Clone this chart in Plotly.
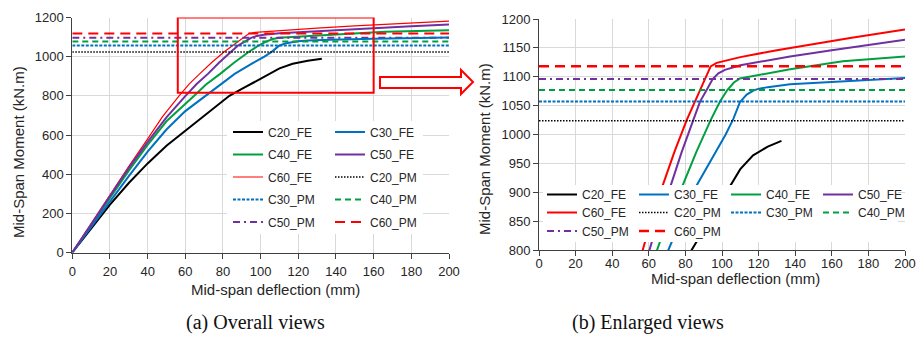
import plotly.graph_objects as go

# ---------------- data ----------------
c20_fe_x = [0, 10, 20, 30, 40, 50, 60, 70, 78.4, 83.4, 90, 97, 104.4, 110, 117, 125, 132.5]
c20_fe_y = [0, 125, 245, 355, 455, 545, 622, 698, 765, 800, 835, 872, 912, 940, 964, 979, 989]

c30_fe_x = [0, 10, 20, 30, 40, 50, 60, 70.7, 78, 86.2, 96, 102, 106.2, 109.8, 113.5, 117.1, 119.8, 125, 137.2, 160, 180, 200]
c30_fe_y = [0, 132, 262, 390, 515, 628, 722, 800, 855, 912, 968, 1000, 1027, 1056, 1069, 1076, 1079, 1082, 1087, 1091, 1094, 1098]

c40_fe_x = [0, 10, 20, 30, 40, 50, 64.7, 71, 78.5, 86, 93.8, 98.9, 102.9, 106.5, 109.8, 120, 137.2, 166, 200]
c40_fe_y = [0, 140, 280, 418, 550, 670, 800, 858, 912, 970, 1025, 1057, 1077, 1090, 1097, 1103, 1113, 1127, 1135]

c50_fe_x = [0, 10, 20, 30, 40, 50, 60.1, 66, 72, 78, 84.3, 88, 91.6, 94.9, 98, 101.6, 110, 137.2, 160, 180, 200]
c50_fe_y = [0, 145, 290, 432, 565, 690, 800, 860, 912, 970, 1025, 1057, 1077, 1096, 1106, 1112, 1120, 1135, 1146, 1155, 1164]

c60_fe_x = [0, 10, 20, 30, 40, 48, 56.7, 62, 67.6, 74, 80.7, 85.2, 90.3, 93.8, 97.1, 110, 130, 150, 170, 200]
c60_fe_y = [0, 148, 295, 440, 580, 695, 800, 860, 912, 970, 1025, 1057, 1096, 1118, 1124, 1134, 1146, 1157, 1167, 1182]

pm_x = [0, 200]
c20_pm = 1024
c30_pm = 1057
c40_pm = 1077
c50_pm = 1096
c60_pm = 1118

x_ticks = [0, 20, 40, 60, 80, 100, 120, 140, 160, 180, 200]
y_ticks_overall = [0, 200, 400, 600, 800, 1000, 1200]
y_ticks_zoom = [800, 850, 900, 950, 1000, 1050, 1100, 1150, 1200]
zoom_box_x = [56, 160]
zoom_box_y = [816, 1200]

# ---------------- styles ----------------
W, H = 917, 338
BLACK, BLUE, GREEN, PURPLE, RED = "#000000", "#0070C0", "#00A040", "#7030A0", "#FF0000"
FONT = "Liberation Sans"
TXT = "#262626"


def px(x):
    return x / W


def py(y):
    return 1 - y / H


series = [
    ("C20_FE", c20_fe_x, c20_fe_y, BLACK, "solid", 2.0, 2.0),
    ("C30_FE", c30_fe_x, c30_fe_y, BLUE, "solid", 2.0, 2.0),
    ("C40_FE", c40_fe_x, c40_fe_y, GREEN, "solid", 2.0, 2.0),
    ("C50_FE", c50_fe_x, c50_fe_y, PURPLE, "solid", 2.0, 2.0),
    ("C60_FE", c60_fe_x, c60_fe_y, RED, "solid", 1.2, 2.0),
    ("C20_PM", pm_x, [c20_pm] * 2, BLACK, "1.5px,1.5px", 1.5, 1.5),
    ("C30_PM", pm_x, [c30_pm] * 2, BLUE, "3px,1.5px", 2.0, 2.0),
    ("C40_PM", pm_x, [c40_pm] * 2, GREEN, "6px,4px", 2.0, 2.0),
    ("C50_PM", pm_x, [c50_pm] * 2, PURPLE, "7px,4px,2px,4px", 2.0, 2.0),
    ("C60_PM", pm_x, [c60_pm] * 2, RED, "10px,6px", 2.0, 2.5),
]

left_leg = {"C20_FE": "legend", "C40_FE": "legend", "C60_FE": "legend", "C30_PM": "legend", "C50_PM": "legend",
            "C30_FE": "legend2", "C50_FE": "legend2", "C20_PM": "legend2", "C40_PM": "legend2", "C60_PM": "legend2"}
right_leg = {"C20_FE": "legend3", "C30_FE": "legend3", "C40_FE": "legend3", "C50_FE": "legend3",
             "C60_FE": "legend4", "C20_PM": "legend4", "C30_PM": "legend4", "C40_PM": "legend4",
             "C50_PM": "legend5", "C60_PM": "legend5"}
left_order = ["C20_FE", "C40_FE", "C60_FE", "C30_PM", "C50_PM", "C30_FE", "C50_FE", "C20_PM", "C40_PM", "C60_PM"]

fig = go.Figure()
lookup = {s[0]: s for s in series}
for name in left_order:
    n, xs, ys, col, dash, wl, wr = lookup[name]
    fig.add_trace(go.Scatter(x=xs, y=ys, mode="lines", name=n, xaxis="x", yaxis="y",
                             line=dict(color=col, dash=dash, width=wl),
                             legend=left_leg[n], legendgroup="L" + n, hoverinfo="skip"))
for s in series:
    n, xs, ys, col, dash, wl, wr = s
    fig.add_trace(go.Scatter(x=xs, y=ys, mode="lines", name=n, xaxis="x2", yaxis="y2",
                             line=dict(color=col, dash=dash, width=wr),
                             legend=right_leg[n], legendgroup="R" + n, hoverinfo="skip"))

axis_common = dict(showgrid=True, gridcolor="#d9d9d9", gridwidth=1, zeroline=False,
                   showline=True, linecolor="#404040", linewidth=1,
                   ticks="outside", ticklen=5, tickcolor="#404040", tickwidth=1,
                   tickfont=dict(family=FONT, size=13, color=TXT), fixedrange=True)

fig.update_layout(
    width=W, height=H, margin=dict(l=0, r=0, t=0, b=0, autoexpand=False),
    paper_bgcolor="white", plot_bgcolor="white",
    xaxis=dict(domain=[px(72.3), px(449)], range=[0, 200], tickvals=x_ticks, anchor="y",
               ticklabelstandoff=2, **axis_common),
    yaxis=dict(domain=[py(252.5), py(17.5)], range=[0, 1200], tickvals=y_ticks_overall, anchor="x", **axis_common),
    xaxis2=dict(domain=[px(539), px(905)], range=[0, 200], tickvals=x_ticks, anchor="y2",
                ticklabelstandoff=-4, **axis_common),
    yaxis2=dict(domain=[py(250), py(19)], range=[800, 1200], tickvals=y_ticks_zoom, anchor="x2", **axis_common),
    showlegend=True,
)

leg_font = dict(family=FONT, size=12, color=TXT)
fig.update_layout(
    legend=dict(x=px(228), y=py(117.5), xanchor="left", yanchor="top", orientation="v",
                traceorder="grouped", tracegroupgap=3.5, bgcolor="rgba(0,0,0,0)", font=leg_font),
    legend2=dict(x=px(330), y=py(117.5), xanchor="left", yanchor="top", orientation="v",
                 traceorder="grouped", tracegroupgap=3.5, bgcolor="rgba(0,0,0,0)", font=leg_font),
    legend3=dict(x=px(542), y=py(180), xanchor="left", yanchor="top", orientation="h",
                 entrywidth=47, entrywidthmode="pixels", bgcolor="rgba(0,0,0,0)", font=leg_font),
    legend4=dict(x=px(542), y=py(198), xanchor="left", yanchor="top", orientation="h",
                 entrywidth=47, entrywidthmode="pixels", bgcolor="rgba(0,0,0,0)", font=leg_font),
    legend5=dict(x=px(542), y=py(216.5), xanchor="left", yanchor="top", orientation="h",
                 entrywidth=47, entrywidthmode="pixels", bgcolor="rgba(0,0,0,0)", font=leg_font),
)

shapes = [
    dict(type="rect", xref="paper", yref="paper", x0=px(227), x1=px(423), y0=py(234), y1=py(121),
         fillcolor="white", line=dict(width=0), layer="above"),
    dict(type="rect", xref="paper", yref="paper", x0=px(543), x1=px(898), y0=py(242), y1=py(185),
         fillcolor="white", line=dict(width=0), layer="above"),
    dict(type="rect", xref="x", yref="y", x0=zoom_box_x[0], x1=zoom_box_x[1], y0=zoom_box_y[0], y1=zoom_box_y[1],
         line=dict(color=RED, width=2), fillcolor="rgba(0,0,0,0)", layer="above"),
]
arrow_pts = [(380, 77), (461, 77), (461, 70), (473, 82), (461, 94), (461, 88), (380, 88)]
path = "M " + " L ".join(f"{px(a):.5f},{py(b):.5f}" for a, b in arrow_pts) + " Z"
shapes.append(dict(type="path", xref="paper", yref="paper", path=path,
                   fillcolor="white", line=dict(color=RED, width=2), layer="above"))
fig.update_layout(shapes=shapes)

title_font = dict(family=FONT, size=15, color=TXT)
ann = [
    dict(text="Mid-Span Moment (kN.m)", x=px(18), y=py(152), textangle=-90, font=title_font),
    dict(text="Mid-Span Moment (kN.m)", x=px(485), y=py(149), textangle=-90, font=title_font),
    dict(text="Mid-span deflection (mm)", x=px(275), y=py(289), font=title_font),
    dict(text="Mid-span deflection (mm)", x=px(735), y=py(278), font=title_font),
    dict(text="(a) Overall views", x=px(255), y=py(322), font=dict(family="Liberation Serif", size=20, color="#111")),
    dict(text="(b) Enlarged views", x=px(648), y=py(322), font=dict(family="Liberation Serif", size=20, color="#111")),
]
for a in ann:
    a.update(xref="paper", yref="paper", showarrow=False, xanchor="center", yanchor="middle")
fig.update_layout(annotations=ann)

fig.write_html("out.html")
